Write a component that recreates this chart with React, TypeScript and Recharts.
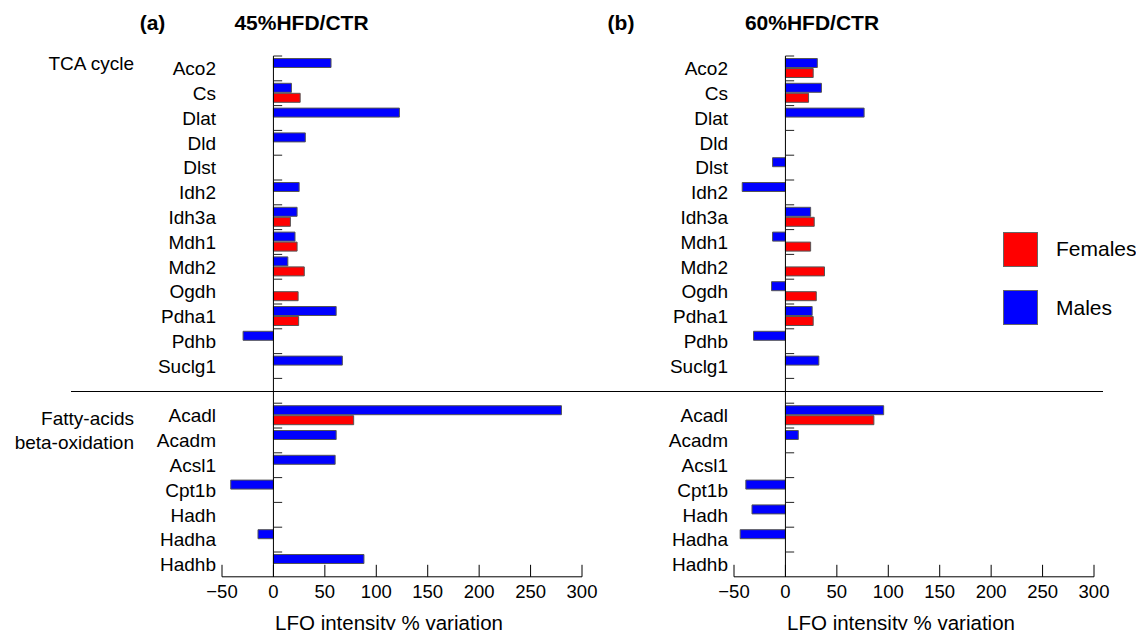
import React from "react";
import { BarChart, Bar, XAxis, YAxis, ReferenceLine } from "recharts";

// genes, top to bottom; " " is the empty row between the two groups
const genes = [
  "Aco2", "Cs", "Dlat", "Dld", "Dlst", "Idh2", "Idh3a", "Mdh1", "Mdh2", "Ogdh", "Pdha1", "Pdhb", "Suclg1",
  " ",
  "Acadl", "Acadm", "Acsl1", "Cpt1b", "Hadh", "Hadha", "Hadhb",
];

// LFQ intensity % variation, 45% HFD vs CTR
const males45 = [56, 17.5, 122.5, 31, null, 25, 23, 21, 14, null, 61, -29.5, 67, null, 280, 61, 60, -41.5, null, -15, 88];
const females45 = [null, 26, null, null, null, null, 16.5, 23, 30, 24, 24.5, null, null, null, 78, null, null, null, null, null, null];

// LFQ intensity % variation, 60% HFD vs CTR
const males60 = [31, 35, 76.5, null, -12.5, -42, 24.5, -12.5, null, -13.5, 26, -31, 32.5, null, 95.5, 12.5, null, -38.5, -32.5, -44, null];
const females60 = [27, 22.5, null, null, null, null, 28, 24.5, 38, 30, 27, null, null, null, 86, null, null, null, null, null, null];

const xTicks = [-50, 0, 50, 100, 150, 200, 250, 300];
const panelTitles = ["45%HFD/CTR", "60%HFD/CTR"];
const seriesNames = ["Females", "Males"];
const groupNames = ["TCA cycle", "Fatty-acids", "beta-oxidation"];
const xTitle = "LFQ intensity % variation";

const FONT = "'Liberation Sans', Arial, Helvetica, sans-serif";
const RED = "#ff0000";
const BLUE = "#0000ff";

type Val = number | null;

const fmtTick = (v: number) => (v < 0 ? `\u2212${Math.abs(v)}` : String(v));

function Panel({ males, females, left }: { males: Val[]; females: Val[]; left: number }) {
  const data = genes.map((gene, i) => ({ gene, Males: males[i], Females: females[i] }));
  return (
    <div style={{ position: "absolute", left, top: 0 }}>
      <BarChart
        width={600}
        height={638}
        data={data}
        layout="vertical"
        margin={{ top: 56, right: 18, bottom: 31.2, left: 0 }}
        barCategoryGap={2.5}
        barGap={1}
      >
        <XAxis
          type="number"
          domain={[-50, 300]}
          ticks={xTicks}
          interval={0}
          height={30}
          tickSize={-12}
          tickMargin={20}
          stroke="#000"
          tickFormatter={fmtTick}
          tick={{ fill: "#000", fontSize: 18.5 }}
          allowDataOverflow
        />
        <YAxis
          type="category"
          dataKey="gene"
          width={222}
          interval={0}
          axisLine={false}
          tickLine={false}
          tickSize={0}
          tickMargin={6}
          tick={{ fill: "#000", fontSize: 19 }}
        />
        <ReferenceLine x={0} stroke="#000" />
        {genes.map((g) => (
          <ReferenceLine
            key={g}
            segment={[{ x: 0, y: g }, { x: 8.5, y: g }]}
            position="start"
            stroke="#222"
          />
        ))}
        <Bar dataKey="Males" fill={BLUE} stroke="#555" isAnimationActive={false} />
        <Bar dataKey="Females" fill={RED} stroke="#555" isAnimationActive={false} />
      </BarChart>
    </div>
  );
}

export default function App() {
  // outer box fills the body's content area; the inner box is pulled back over the 8px body margin
  return (
    <div style={{ position: "relative", width: 1128, height: 622, fontFamily: FONT }}>
      <div style={{ position: "absolute", left: -8, top: -8, width: 1144, height: 638, background: "#fff" }}>
        <Panel males={males45} females={females45} left={0} />
        <Panel males={males60} females={females60} left={512} />
        <svg
          width={1144}
          height={638}
          style={{ position: "absolute", left: 0, top: 0, pointerEvents: "none" }}
          fontFamily={FONT}
        >
          <g fontWeight="bold" fontSize={21} textAnchor="middle">
            <text x={152.5} y={30}>(a)</text>
            <text x={301.5} y={30}>{panelTitles[0]}</text>
            <text x={621} y={30}>(b)</text>
            <text x={812} y={30}>{panelTitles[1]}</text>
          </g>
          <g fontSize={19} textAnchor="end">
            <text x={134} y={70}>{groupNames[0]}</text>
            <text x={134} y={425}>{groupNames[1]}</text>
            <text x={134} y={448.5}>{groupNames[2]}</text>
          </g>
          <line x1={71} x2={1103} y1={391.5} y2={391.5} stroke="#000" />
          <rect x={1003.5} y={232.5} width={34} height={34} fill={RED} stroke="#666" />
          <text x={1056} y={255.5} fontSize={21}>{seriesNames[0]}</text>
          <rect x={1003.5} y={290.5} width={34} height={34} fill={BLUE} stroke="#666" />
          <text x={1056} y={315} fontSize={21}>{seriesNames[1]}</text>
          <g fontSize={20.5} textAnchor="middle">
            <text x={389} y={630}>{xTitle}</text>
            <text x={901} y={630}>{xTitle}</text>
          </g>
        </svg>
      </div>
    </div>
  );
}
